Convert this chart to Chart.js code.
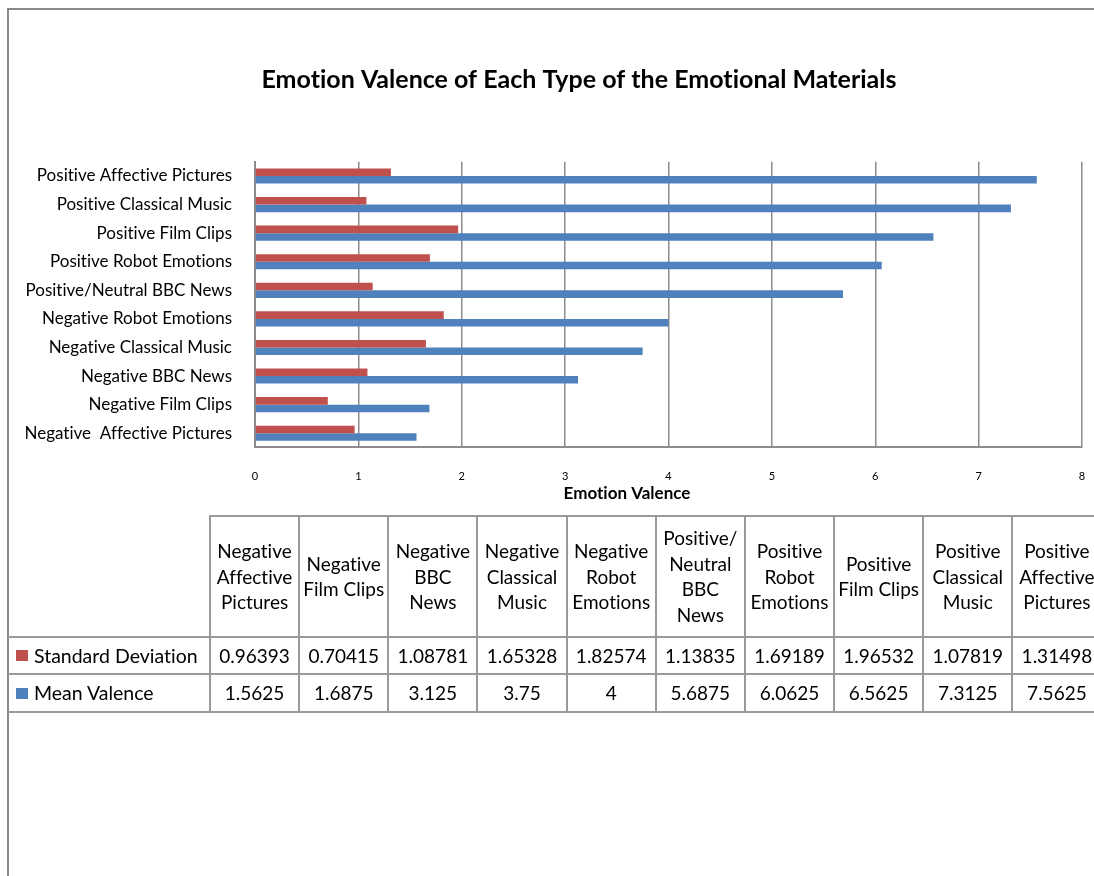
<!DOCTYPE html>
<html>
<head>
<meta charset="utf-8">
<script src="https://cdn.jsdelivr.net/npm/chart.js@4.4.1/dist/chart.umd.min.js"></script>
<style>
  html, body { margin: 0; padding: 0; width: 1094px; height: 876px; overflow: hidden; background: #fff; font-family: Lato, "Open Sans", sans-serif; font-variant-ligatures: none; }
  #frame { position: absolute; left: 7px; top: 8px; width: 1200px; height: 1000px; border: 2px solid #8a8a8a; box-sizing: border-box; }
  #chart { position: absolute; left: 0; top: 0; }
  #table { position: absolute; left: 0; top: 0; width: 1094px; height: 876px; }
  .cell { position: absolute; display: flex; align-items: center; justify-content: center; text-align: center; color: #000; font-size: 19px; line-height: 25.5px; white-space: nowrap; }
  .rowhead { justify-content: flex-start; text-align: left; font-size: 19.5px; }
  .swatch { display: inline-block; width: 12px; height: 11px; margin: 0 6px 0 7px; }
  .line { position: absolute; background: #9a9a9a; }
</style>
</head>
<body>
<div id="frame"></div>
<canvas id="chart" width="1094" height="876"></canvas>
<div id="table"></div>
<script>
// Stimulus categories, in data-table order
const categories = [
  'Negative  Affective Pictures', 'Negative Film Clips', 'Negative BBC News',
  'Negative Classical Music', 'Negative Robot Emotions', 'Positive/Neutral BBC News',
  'Positive Robot Emotions', 'Positive Film Clips', 'Positive Classical Music',
  'Positive Affective Pictures'
];
// Column headings of the data table, split into lines
const headerLines = [
  ['Negative', 'Affective', 'Pictures'], ['Negative', 'Film Clips'], ['Negative', 'BBC', 'News'],
  ['Negative', 'Classical', 'Music'], ['Negative', 'Robot', 'Emotions'], ['Positive/', 'Neutral', 'BBC', 'News'],
  ['Positive', 'Robot', 'Emotions'], ['Positive', 'Film Clips'], ['Positive', 'Classical', 'Music'],
  ['Positive', 'Affective', 'Pictures']
];
const seriesNames = ['Standard Deviation', 'Mean Valence'];
const stdDeviation = [0.96393, 0.70415, 1.08781, 1.65328, 1.82574, 1.13835, 1.69189, 1.96532, 1.07819, 1.31498];
const meanValence = [1.5625, 1.6875, 3.125, 3.75, 4, 5.6875, 6.0625, 6.5625, 7.3125, 7.5625];
const valenceTicks = [0, 1, 2, 3, 4, 5, 6, 7, 8];

const RED = '#C0504D';
const BLUE = '#4F81BD';
const GRID = '#8c8c8c';

// Plain glyphs (no "ti" ligatures) for everything drawn on the canvas
const plainText = {
  id: 'plainText',
  beforeDraw(chart) {
    const c = chart.ctx;
    c.letterSpacing = '0.01px';
    c.textRendering = 'optimizeSpeed';
  }
};

// Chart title and x-axis title
const titlePlugin = {
  id: 'titles',
  afterDraw(chart) {
    const c = chart.ctx;
    c.save();
    c.fillStyle = '#000';
    c.textAlign = 'center';
    c.textBaseline = 'middle';
    c.font = 'bold 25px Lato';
    c.fillText('Emotion Valence of Each Type of the Emotional Materials', 579, 80);
    c.font = 'bold 17px Lato';
    c.fillText('Emotion Valence', 627, 494);
    c.restore();
  }
};

new Chart(document.getElementById('chart'), {
  type: 'bar',
  data: {
    // Top-to-bottom order of the bar chart is the reverse of the table
    labels: categories.slice().reverse(),
    datasets: [
      { label: seriesNames[0], data: stdDeviation.slice().reverse(), backgroundColor: RED,
        categoryPercentage: 0.53, barPercentage: 1 },
      { label: seriesNames[1], data: meanValence.slice().reverse(), backgroundColor: BLUE,
        categoryPercentage: 0.53, barPercentage: 1 }
    ]
  },
  options: {
    indexAxis: 'y',
    responsive: false,
    animation: false,
    events: [],
    layout: { padding: { top: 161.7, left: 8, right: 12, bottom: 388.5 } },
    plugins: { legend: { display: false }, title: { display: false }, tooltip: { enabled: false } },
    scales: {
      x: {
        min: valenceTicks[0], max: valenceTicks[valenceTicks.length - 1],
        afterBuildTicks(s) { s.ticks = valenceTicks.map(v => ({ value: v })); },
        ticks: { padding: 22, color: '#000', font: { family: 'Lato', size: 11 }, maxRotation: 0 },
        grid: { color: GRID, lineWidth: 1.5, drawTicks: false },
        border: { color: GRID, width: 2 },
        afterFit(s) { s.height = 40; s.paddingLeft = 0; s.paddingRight = 0; }
      },
      y: {
        ticks: { padding: 23, color: '#000', font: { family: 'Lato', size: 17 }, autoSkip: false },
        grid: { display: false, drawTicks: false },
        border: { color: GRID, width: 2 },
        afterFit(s) { s.width = 247; s.paddingTop = 0; s.paddingBottom = 0; }
      }
    }
  },
  plugins: [plainText, titlePlugin]
});

// Data table under the chart
(function buildTable() {
  const host = document.getElementById('table');
  const firstColLeft = 9, firstColRight = 210, colW = 89.15;
  const rowY = [516, 636.7, 674, 712];
  const tableRight = firstColRight + colW * categories.length;

  function line(x, y, w, h) {
    const d = document.createElement('div');
    d.className = 'line';
    Object.assign(d.style, { left: x + 'px', top: y + 'px', width: w + 'px', height: h + 'px' });
    host.appendChild(d);
  }
  function cell(x, y, w, h, html, cls) {
    const d = document.createElement('div');
    d.className = 'cell' + (cls ? ' ' + cls : '');
    Object.assign(d.style, { left: x + 'px', top: y + 'px', width: w + 'px', height: h + 'px' });
    d.innerHTML = html;
    host.appendChild(d);
  }

  // Header row
  headerLines.forEach((lines, i) => {
    const x = firstColRight + i * colW;
    cell(x, rowY[0], colW, rowY[1] - rowY[0], lines.join('<br>'));
  });

  // Series rows
  const rows = [stdDeviation, meanValence];
  const colors = [RED, BLUE];
  rows.forEach((vals, r) => {
    const y0 = rowY[r + 1], h = rowY[r + 2] - rowY[r + 1];
    cell(firstColLeft, y0, firstColRight - firstColLeft, h,
      '<span class="swatch" style="background:' + colors[r] + '"></span>' + seriesNames[r], 'rowhead');
    vals.forEach((v, i) => {
      cell(firstColRight + i * colW, y0, colW, h, String(v));
    });
  });

  // Grid lines
  line(firstColRight - 1, rowY[0] - 1, tableRight - firstColRight + 2, 2);
  for (let k = 1; k < rowY.length; k++) line(firstColLeft - 1, rowY[k] - 1, tableRight - firstColLeft + 2, 2);
  for (let i = 0; i <= categories.length; i++) line(firstColRight + i * colW - 1, rowY[0] - 1, 2, rowY[3] - rowY[0] + 2);
})();
</script>
</body>
</html>
